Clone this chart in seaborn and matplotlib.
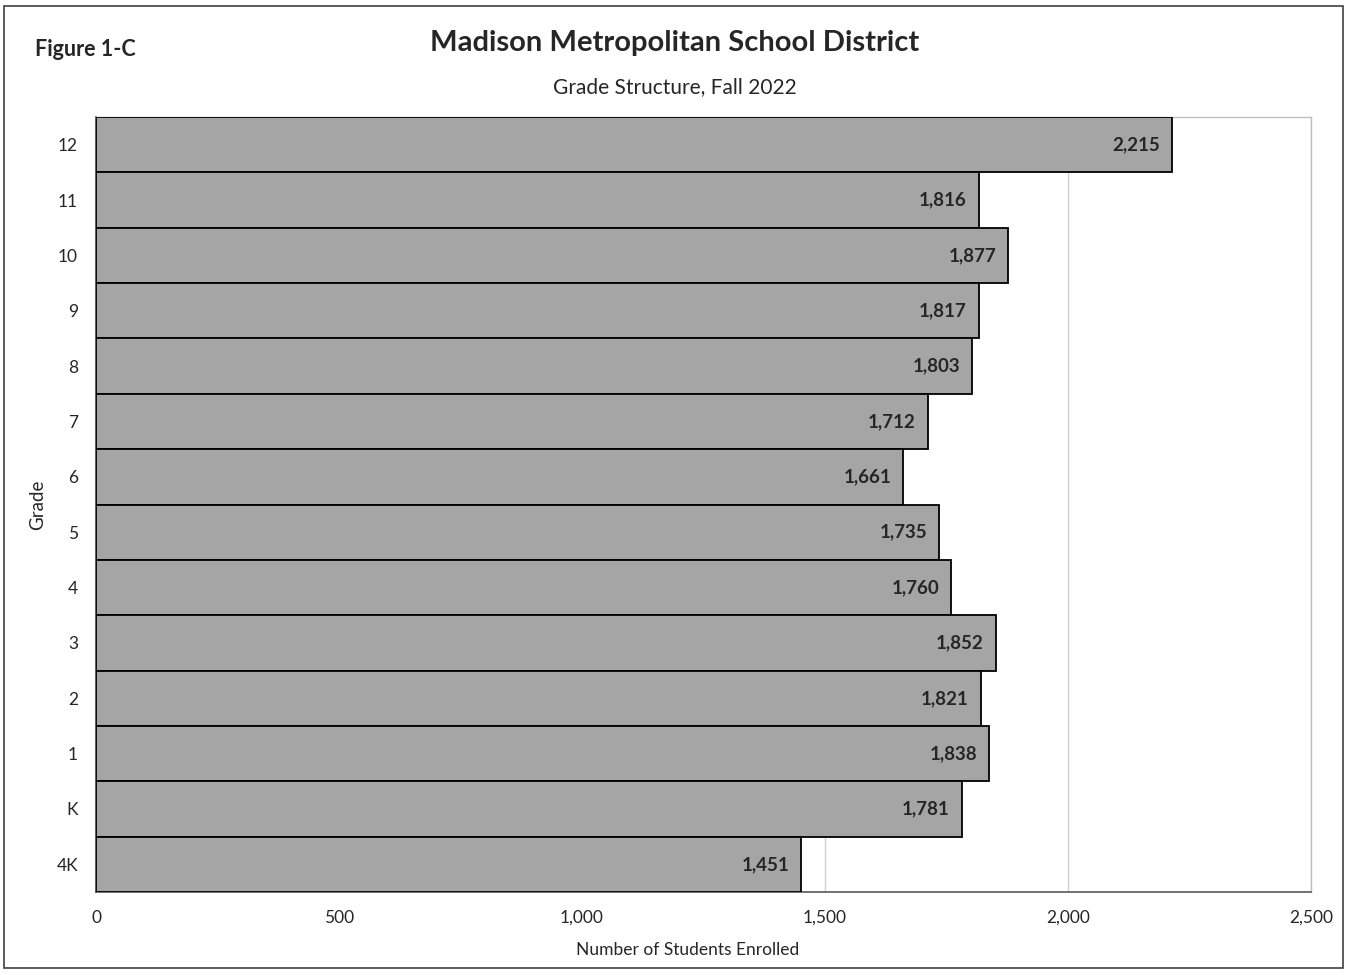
import matplotlib.pyplot as plt
import matplotlib.ticker as mticker
import matplotlib.patches as mpatches
import numpy as np
import pandas as pd
import seaborn as sns

grades = ["12", "11", "10", "9", "8", "7", "6", "5", "4", "3", "2", "1", "K", "4K"]
enrolled = [2215, 1816, 1877, 1817, 1803, 1712, 1661, 1735, 1760, 1852, 1821, 1838, 1781, 1451]
x_ticks = [0, 500, 1000, 1500, 2000, 2500]

df = pd.DataFrame({"grade": grades, "students": enrolled})

sns.set_style("white")
plt.rcParams["font.family"] = ["Lato", "DejaVu Sans"]

fig = plt.figure(figsize=(13.51, 9.75), dpi=100)
ax = fig.add_axes([96 / 1351, 1 - 892 / 975, (1311 - 96) / 1351, (892 - 117) / 975])

sns.barplot(data=df, y="grade", x="students", order=grades, orient="h",
            color="#A5A5A5", saturation=1, width=1.0, edgecolor="black",
            linewidth=1.3, ax=ax, zorder=3)

ax.set_xlim(0, 2500)
ax.set_ylim(len(grades) - 0.5, -0.5)
ax.set_xticks(x_ticks)
ax.xaxis.set_major_formatter(mticker.FuncFormatter(lambda v, p: f"{int(v):,}"))
ax.grid(axis="x", color="#D0D0D0", linewidth=1, zorder=0)
ax.set_axisbelow(True)

for sp in ["top", "right"]:
    ax.spines[sp].set_color("#BFBFBF")
    ax.spines[sp].set_linewidth(1)
ax.spines["left"].set_color("#404040")
ax.spines["bottom"].set_color("#595959")
ax.spines["left"].set_linewidth(1.2)
ax.spines["bottom"].set_linewidth(1.2)

# category labels centred, small ticks on the band boundaries
ax.tick_params(axis="y", which="major", length=0, pad=13, labelsize=12.5)
ax.set_yticks(np.arange(len(grades) + 1) - 0.5, minor=True)
ax.tick_params(axis="y", which="minor", length=5, color="#404040")
ax.tick_params(axis="x", length=5, color="#595959", labelsize=12.5, pad=8)

for i, v in enumerate(enrolled):
    ax.text(v - 25, i, f"{v:,}", ha="right", va="center", fontsize=13.5,
            fontweight="bold", zorder=4)

ax.set_xlabel("Number of Students Enrolled", fontsize=12.5, va="center")
ax.xaxis.set_label_coords((688 - 96) / 1215, -(950 - 892) / 775)
ax.set_ylabel("Grade", fontsize=13.5, va="center")
ax.yaxis.set_label_coords((38 - 96) / 1215, 0.5)

fig.text(675 / 1351, 1 - 43 / 975, "Madison Metropolitan School District",
         ha="center", va="center", fontsize=21, fontweight="bold")
fig.text(675 / 1351, 1 - 87 / 975, "Grade Structure, Fall 2022",
         ha="center", va="center", fontsize=15)
fig.text(35 / 1351, 1 - 50 / 975, "Figure 1-C", ha="left", va="center",
         fontsize=15.5, fontweight="bold")

border = mpatches.Rectangle((4 / 1351, 1 - 968 / 975), (1343 - 4) / 1351, (968 - 6) / 975,
                            transform=fig.transFigure, fill=False,
                            edgecolor="#404040", linewidth=1.2)
fig.patches.append(border)

fig.savefig("out.png", dpi=100)
